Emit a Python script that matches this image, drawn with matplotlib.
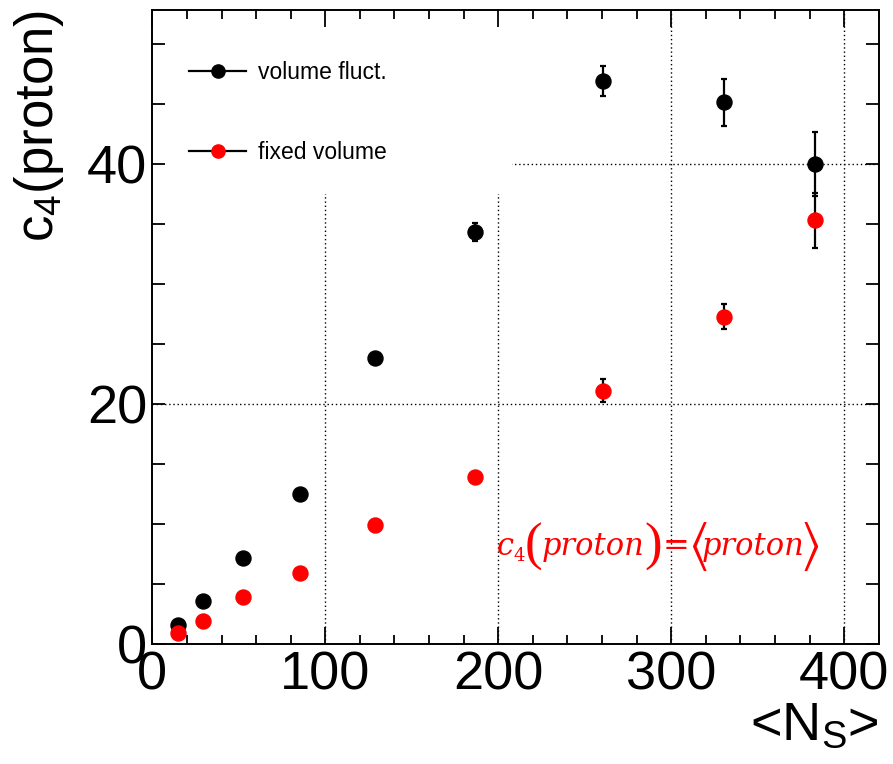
import matplotlib
matplotlib.use('Agg')
import matplotlib.pyplot as plt
from matplotlib.lines import Line2D
from matplotlib.patches import Rectangle
from matplotlib.ticker import MultipleLocator

plt.rcParams['font.family'] = ['Liberation Sans', 'DejaVu Sans']
plt.rcParams['mathtext.fontset'] = 'stix'
plt.rcParams['mathtext.default'] = 'regular'

# data
ns = [14.6, 29.5, 52.5, 85.3, 128.9, 186.5, 260.8, 330.4, 382.9]
c4_volfluct = [1.6, 3.6, 7.2, 12.5, 23.8, 34.3, 46.9, 45.1, 40.0]
c4_volfluct_err = [0.0, 0.0, 0.0, 0.0, 0.0, 0.75, 1.25, 1.95, 2.65]
c4_fixed = [0.95, 1.9, 3.9, 5.9, 9.9, 13.9, 21.1, 27.25, 35.3]
c4_fixed_err = [0.0, 0.0, 0.0, 0.0, 0.0, 0.0, 0.95, 1.05, 2.3]

xticks = [0, 100, 200, 300, 400]
yticks = [0, 20, 40]
xmax, ymax = 420, 52.8

fig = plt.figure(figsize=(8.93, 7.64), dpi=100)
ax = fig.add_axes([0.1706, 0.1571, 0.8134, 0.8298])
ax.set_xlim(0, xmax)
ax.set_ylim(0, ymax)

# dotted grid, hidden behind the legend pad (like in ROOT)
for x in xticks[1:]:
    ax.axvline(x, color='black', lw=1.0, ls=(0, (1, 2)), zorder=1)
for y in yticks[1:]:
    ax.axhline(y, color='black', lw=1.0, ls=(0, (1, 2)), zorder=1)
ax.add_patch(Rectangle((0, 37.5), 208, ymax - 37.5, facecolor='white',
                       edgecolor='none', zorder=1.5))

ax.errorbar(ns, c4_volfluct, yerr=c4_volfluct_err, fmt='o', color='black',
            ms=10.8, elinewidth=1.6, capsize=2, capthick=1.6, zorder=3)
ax.errorbar(ns, c4_fixed, yerr=c4_fixed_err, fmt='o', mfc='red', mec='red',
            ecolor='black', ms=10.8, elinewidth=1.6, capsize=2, capthick=1.6, zorder=3)

handles = [Line2D([], [], color='black', lw=1.6, marker='o', ms=9.5),
           Line2D([], [], color='black', lw=1.6, marker='o', ms=9.5, mfc='red', mec='red')]
ax.legend(handles, ['volume fluct.', 'fixed volume'], loc='upper left',
          bbox_to_anchor=(0.022, 0.952), frameon=False, fontsize=16.5,
          handlelength=2.5, handletextpad=0.5, labelspacing=2.5)

# red formula, built piece by piece so the brackets can be taller
serif_it = dict(family='DejaVu Serif', style='italic', fontsize=22)
pieces = [
    ('4', dict(family='DejaVu Serif', fontsize=13), 0, -7),
    ('(', dict(family='Liberation Serif', fontsize=38), -0.5, 0),
    ('proton', serif_it, -0.5, 0),
    (')', dict(family='Liberation Serif', fontsize=38), 0, 0),
    ('=', dict(family='DejaVu Serif', fontsize=23), 1, 0),
    (r'$\langle$', dict(fontsize=38), -1.5, 0),
    ('proton', serif_it, -4, 0),
    (r'$\rangle$', dict(fontsize=38), -3.5, 0),
]
prev = ax.text(199, 8.1, 'c', color='red', va='center', ha='left', zorder=4, **serif_it)
for s, kw, dx, dy in pieces:
    # subscript offset is relative to the letter, the next piece goes back to the middle line
    prev = ax.annotate(s, xy=(1, 0.5), xycoords=prev, xytext=(dx, dy),
                       textcoords='offset points', va='center', ha='left',
                       color='red', zorder=4, **kw)
    if dy:
        prev = ax.annotate('', xy=(1, 0.5), xycoords=prev, xytext=(0, -dy),
                           textcoords='offset points', va='center', ha='left')

ax.set_xticks(xticks)
ax.set_yticks(yticks)
ax.xaxis.set_minor_locator(MultipleLocator(20))
ax.yaxis.set_minor_locator(MultipleLocator(5))
ax.tick_params(which='both', direction='in', top=True, right=True, width=1.3)
ax.tick_params(axis='x', which='major', length=12.5, labelsize=39, pad=5)
ax.tick_params(axis='x', which='minor', length=6.5)
ax.tick_params(axis='y', which='both', length=9.5)
ax.tick_params(axis='y', which='major', labelsize=39, pad=3.5)
for s in ax.spines.values():
    s.set_linewidth(1.4)

ax.set_xlabel('<N$_S$>', fontsize=39, loc='right', labelpad=0)
ax.set_ylabel('c$_4$(proton)', fontsize=38, loc='top', labelpad=15)

fig.savefig('out.png', dpi=100)
